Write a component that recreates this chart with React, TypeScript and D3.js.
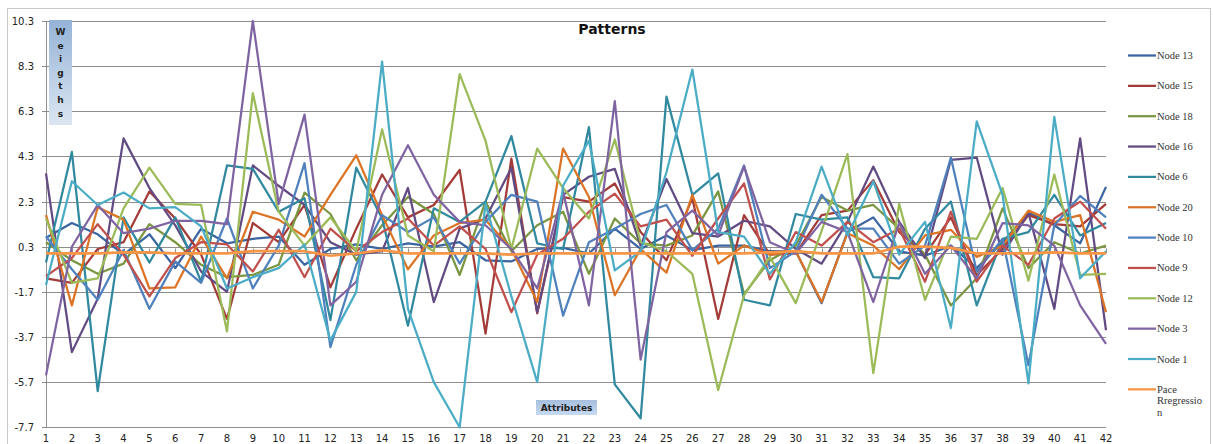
import React, { useEffect, useRef } from 'react';
import * as d3 from 'd3';

const attributes = d3.range(1, 43);
const yTicks = [10.3, 8.3, 6.3, 4.3, 2.3, 0.3, -1.7, -3.7, -5.7, -7.7];

const node13 = [0.7, 1.35, 0.85, -0.05, 0.85, -0.65, 1.1, 0.45, 0.65, 0.75, -0.5, 0.2, 0.4, 0.2, 0.45, 0.3, 0.5, -0.3, -0.35, 0.2, 0.25, 0.0, 1.1, 0.2, 0.8, 0.15, 0.35, 0.35, 0.1, 0.1, -2.2, 0.95, 1.6, 0.1, -0.1, 0.35, -0.65, 0.5, 1.8, 1.25, 0.45, 2.95];
const node15 = [-1.1, -1.3, 0.2, 0.5, 2.75, 1.55, -0.05, -2.9, 1.35, 0.5, 2.15, -1.5, 1.1, 3.5, 1.6, 2.15, 3.7, -3.55, 4.2, -2.65, 2.5, 2.3, 3.1, 0.95, -0.3, 2.45, -2.9, 1.7, -0.05, 0.0, 1.7, 1.9, 3.25, 0.95, -0.05, 1.6, -0.95, 0.2, 1.7, 1.3, 1.2, 2.2];
const node18 = [0.5, -0.3, -0.9, -0.45, 1.3, 0.5, -0.5, -1.05, -0.95, -0.5, 2.7, 1.75, -0.3, 1.25, 2.5, 1.75, -0.95, 2.3, 0.1, 1.25, 1.85, -0.9, 1.55, 0.45, 0.35, 0.8, 2.75, -1.8, -0.3, 0.35, 2.5, 1.9, 2.15, 1.1, -0.05, -2.3, -1.1, 2.0, -0.65, 0.5, 0.0, 0.35];
const node16 = [3.55, -4.37, -2.0, 5.1, 2.9, 1.25, -0.8, -1.7, 3.9, 3.0, 2.15, 0.5, -0.05, 0.1, 2.9, -2.15, 1.1, 1.55, 3.8, -2.6, 2.6, 3.4, 3.75, 0.35, 3.3, 0.9, 0.75, 1.45, 1.2, 0.2, -0.45, 1.4, 3.85, 1.4, -0.2, 4.15, 4.25, -0.05, 1.8, -2.45, 5.1, -3.4];
const node6 = [-0.4, 4.5, -6.1, 1.6, -0.4, 1.6, -1.25, 3.9, 3.75, 1.85, 2.45, -2.95, 3.8, 1.55, -3.2, 2.0, 1.4, 2.3, 5.2, 0.45, 0.2, 5.6, -5.8, -7.3, 6.95, 2.6, 3.55, -2.05, -2.3, 1.75, 1.5, 1.6, -1.05, -1.1, 1.1, 2.3, -2.3, 0.65, 0.95, 2.6, 0.8, 1.35];
const node20 = [1.7, -2.3, 2.05, 1.5, -1.55, -1.5, 0.75, -1.1, 1.85, 1.5, 0.75, 2.6, 4.35, 1.7, -0.7, 0.8, 1.35, 1.5, 0.2, -2.15, 4.65, 2.5, -1.85, 0.2, -0.85, 2.6, -0.45, 0.35, -0.05, 0.1, -2.15, 0.9, 0.35, -0.7, 0.8, 1.05, -0.15, 0.35, 1.9, 1.4, 1.7, -2.6];
const node10 = [0.75, -0.7, -2.05, 0.15, -2.45, -0.35, -1.3, 1.55, -1.55, 0.35, 4.0, -4.15, -0.5, 1.7, 0.95, 1.6, -0.45, 1.4, 2.6, 2.3, -2.75, 0.5, 1.1, 1.75, 2.15, 0.15, 1.1, 3.9, -0.65, 0.1, 2.6, 1.1, 1.1, -0.45, 0.35, 4.25, -0.8, 0.65, -4.95, 1.25, 2.55, 1.6];
const node9 = [-1.0, -0.2, 1.3, -0.05, -1.9, -0.2, 0.5, 0.4, -0.8, 1.05, -1.05, 1.1, 0.1, 0.95, 1.55, 0.35, 1.2, 0.2, -2.6, -0.05, 0.65, 1.85, 2.65, 1.2, 1.5, -0.1, 1.55, 3.1, -1.15, 0.95, 0.35, 1.4, 0.5, 1.1, -1.25, 1.85, -1.25, 0.35, -0.5, 1.55, 2.3, 1.1];
const node12 = [1.55, -1.3, -1.1, 2.0, 3.8, 2.2, 2.15, -3.45, 7.1, 1.85, 0.35, 1.6, 0.1, 5.5, 0.8, 0.1, 7.95, 5.0, 0.2, 4.65, 2.9, 1.55, 5.05, 0.5, 0.1, -0.9, -6.05, -1.85, -0.15, -2.2, 1.0, 4.4, -5.3, 2.2, -2.05, 0.75, 0.65, 2.9, -1.2, 3.5, -0.95, -0.9];
const node3 = [-5.4, 0.3, 2.15, 0.9, 1.1, 1.45, 1.45, 1.3, 10.3, 2.2, 6.15, -2.3, -1.25, 2.6, 4.8, 2.6, 1.4, 1.25, 0.2, -1.55, 2.75, -2.3, 6.75, -4.7, 0.95, 1.9, 0.8, 3.85, 0.5, 0.0, 1.4, 0.95, -2.15, 1.35, -0.9, 0.35, -1.1, 1.35, 1.25, 0.35, -2.3, -4.0];
const node1 = [-1.4, 3.2, 2.15, 2.7, 2.0, 2.05, 1.2, -1.55, -1.05, -0.65, 0.4, -3.85, -1.7, 8.5, -2.45, -5.7, -7.7, 2.2, -1.9, -5.7, 3.0, 5.0, -0.75, 0.1, 3.6, 8.15, 0.95, 0.75, -0.9, 0.5, 3.85, 0.8, 3.2, -0.05, 1.4, -3.3, 5.85, 2.6, -5.75, 6.05, -1.1, 0.1];
const paceRegression = [0.0, 0.0, 0.0, 0.05, 0.05, 0.0, 0.0, 0.0, 0.1, 0.1, 0.1, -0.1, 0.0, 0.15, 0.0, 0.0, 0.0, 0.0, -0.05, 0.0, 0.0, 0.0, 0.0, 0.0, 0.0, 0.0, 0.0, 0.0, 0.05, 0.1, 0.0, 0.0, 0.0, 0.3, 0.3, 0.25, 0.0, 0.0, 0.0, 0.05, 0.0, 0.0];

const seriesNames = ['Node 13', 'Node 15', 'Node 18', 'Node 16', 'Node 6', 'Node 20', 'Node 10', 'Node 9', 'Node 12', 'Node 3', 'Node 1', 'Pace Rregression'];
const seriesValues = [node13, node15, node18, node16, node6, node20, node10, node9, node12, node3, node1, paceRegression];
const seriesColors = ['#3A65A0', '#A33B38', '#7A9640', '#614B82', '#31899F', '#DC7426', '#4F81BD', '#C0504D', '#9BBB59', '#8064A2', '#4BACC6', '#F79646'];

const App: React.FC = () => {
  const ref = useRef<SVGSVGElement | null>(null);

  useEffect(() => {
    if (!ref.current) return;
    const width = 1213;
    const height = 444;
    const svg = d3.select(ref.current).attr('width', width).attr('height', height);
    svg.selectAll('*').remove();

    const x = d3.scalePoint<number>().domain(attributes).range([46, 1106]);
    const y = d3.scaleLinear().domain([-7.7, 10.3]).range([427.3, 21]);

    const defs = svg.append('defs');
    const g1 = defs.append('linearGradient').attr('id', 'ylab').attr('x1', 0).attr('y1', 0).attr('x2', 0).attr('y2', 1);
    g1.append('stop').attr('offset', '0%').attr('stop-color', '#95B3D7');
    g1.append('stop').attr('offset', '100%').attr('stop-color', '#DCE6F2');
    const g2 = defs.append('linearGradient').attr('id', 'xlab').attr('x1', 0).attr('y1', 0).attr('x2', 0).attr('y2', 1);
    g2.append('stop').attr('offset', '0%').attr('stop-color', '#A7BFDE');
    g2.append('stop').attr('offset', '100%').attr('stop-color', '#C6D9F1');

    // chart border
    svg.append('rect')
      .attr('x', 7.5).attr('y', 8.5).attr('width', 1203).attr('height', 450)
      .attr('fill', 'white').attr('stroke', '#c8c8c8');

    // gridlines + y ticks
    const grid = svg.append('g');
    yTicks.forEach(t => {
      grid.append('line')
        .attr('x1', 42).attr('x2', 1106)
        .attr('y1', Math.round(y(t)) + 0.5).attr('y2', Math.round(y(t)) + 0.5)
        .attr('stroke', '#8e8e8e').attr('stroke-width', 1);
      grid.append('text')
        .attr('x', 34).attr('y', y(t) + 4)
        .attr('text-anchor', 'end')
        .attr('font-family', 'DejaVu Sans').attr('font-size', 10)
        .attr('fill', '#222')
        .text(t.toFixed(1));
    });

    // y axis line
    svg.append('line')
      .attr('x1', 46.5).attr('x2', 46.5).attr('y1', 21).attr('y2', 428)
      .attr('stroke', '#8e8e8e');

    // category axis at zero
    const y0 = Math.round(y(0)) + 0.5;
    svg.append('line').attr('x1', 46).attr('x2', 1106).attr('y1', y0).attr('y2', y0).attr('stroke', '#8e8e8e');
    svg.append('g').selectAll('line').data(attributes).enter().append('line')
      .attr('x1', d => Math.round(x(d) as number) + 0.5).attr('x2', d => Math.round(x(d) as number) + 0.5)
      .attr('y1', y0 - 5).attr('y2', y0)
      .attr('stroke', '#8e8e8e');

    svg.append('g').selectAll('text').data(attributes).enter().append('text')
      .attr('x', d => x(d) as number).attr('y', 442)
      .attr('text-anchor', 'middle')
      .attr('font-family', 'DejaVu Sans').attr('font-size', 10)
      .attr('fill', '#222')
      .text(d => String(d));

    // series
    const line = d3.line<number>()
      .x((d, i) => x(attributes[i]) as number)
      .y(d => y(d));

    seriesValues.forEach((vals, i) => {
      svg.append('path')
        .datum(vals)
        .attr('d', line)
        .attr('fill', 'none')
        .attr('stroke', seriesColors[i])
        .attr('stroke-width', i === seriesValues.length - 1 ? 2.75 : 2.25)
        .attr('stroke-linejoin', 'round');
    });

    // title
    svg.append('text')
      .attr('x', 612).attr('y', 34)
      .attr('text-anchor', 'middle')
      .attr('font-family', 'DejaVu Sans').attr('font-weight', 'bold').attr('font-size', 14)
      .attr('fill', '#111')
      .text('Patterns');

    // y axis label box
    svg.append('rect').attr('x', 49).attr('y', 20).attr('width', 23).attr('height', 105).attr('fill', 'url(#ylab)');
    'Weigths'.split('').forEach((ch, i) => {
      svg.append('text')
        .attr('x', 60.5).attr('y', 35 + i * 13.6)
        .attr('text-anchor', 'middle')
        .attr('font-family', 'DejaVu Sans').attr('font-weight', 'bold').attr('font-size', 9)
        .attr('fill', '#222')
        .text(ch);
    });

    // x axis label box
    svg.append('rect').attr('x', 536).attr('y', 400).attr('width', 61).attr('height', 15).attr('fill', 'url(#xlab)');
    svg.append('text')
      .attr('x', 566.5).attr('y', 411)
      .attr('text-anchor', 'middle')
      .attr('font-family', 'DejaVu Sans').attr('font-weight', 'bold').attr('font-size', 9)
      .attr('fill', '#222')
      .text('Attributes');

    // legend
    const legend = svg.append('g');
    seriesNames.forEach((name, i) => {
      const ly = 55.5 + i * 30.35;
      legend.append('line')
        .attr('x1', 1128).attr('x2', 1156).attr('y1', ly).attr('y2', ly)
        .attr('stroke', seriesColors[i]).attr('stroke-width', 2.25);
      const lines = name === 'Pace Rregression' ? ['Pace', 'Rregressio', 'n'] : [name];
      lines.forEach((t, j) => {
        legend.append('text')
          .attr('x', 1157).attr('y', ly + 3.5 + j * 11.5)
          .attr('font-family', 'Liberation Serif').attr('font-size', 10.5)
          .attr('fill', '#333')
          .text(t);
      });
    });
  }, []);

  return <svg ref={ref} style={{ position: 'absolute', left: 0, top: 0 }}></svg>;
};

export default App;
